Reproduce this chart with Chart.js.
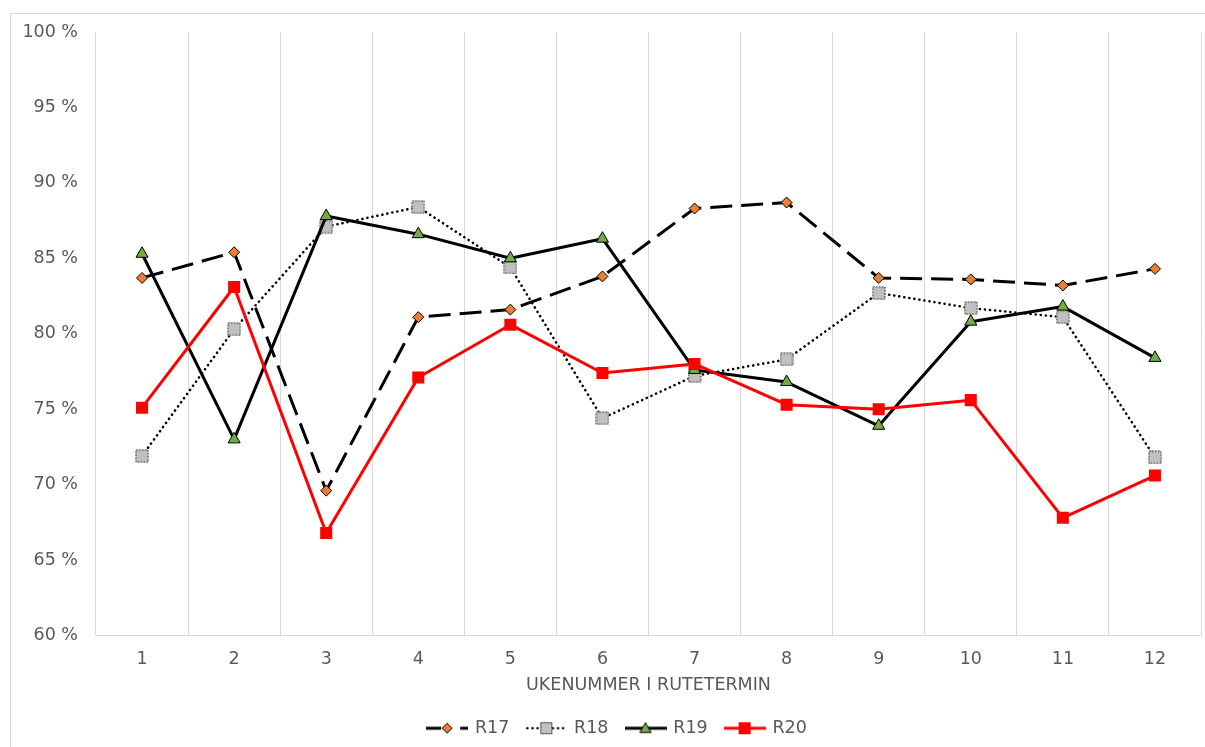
<!DOCTYPE html>
<html>
<head>
<meta charset="utf-8">
<script src="https://cdn.jsdelivr.net/npm/chart.js@4.4.1/dist/chart.umd.min.js"></script>
<style>
  html, body { margin: 0; padding: 0; background: #fff; overflow: hidden; }
  #frame { position: absolute; left: 10px; top: 13px; width: 1300px; height: 800px;
           border: 1px solid #d9d9d9; box-sizing: border-box; }
  #wrap { position: absolute; left: 0; top: 0; width: 1205px; height: 747px; }
</style>
</head>
<body>
<div id="frame"></div>
<div id="wrap"><canvas id="c" width="1205" height="747"></canvas></div>
<script>
// Week numbers within the timetable period
const weeks = ['1', '2', '3', '4', '5', '6', '7', '8', '9', '10', '11', '12'];

// Share per week (%) for each timetable period
const r17 = [83.7, 85.4, 69.6, 81.1, 81.6, 83.8, 88.3, 88.7, 83.7, 83.6, 83.2, 84.3];
const r18 = [71.9, 80.3, 87.1, 88.4, 84.4, 74.4, 77.2, 78.3, 82.7, 81.7, 81.1, 71.8];
const r19 = [85.3, 73.0, 87.8, 86.6, 85.0, 86.3, 77.6, 76.8, 73.9, 80.8, 81.8, 78.4];
const r20 = [75.1, 83.1, 66.8, 77.1, 80.6, 77.4, 78.0, 75.3, 75.0, 75.6, 67.8, 70.6];

const seriesNames = ['R17', 'R18', 'R19', 'R20'];
const yTicks = [60, 65, 70, 75, 80, 85, 90, 95, 100];

const TEXT = '#595959';
const GRID = '#d9d9d9';
const FONT = 'DejaVu Sans';
const FS = 17.5;

function makeCanvas(w, h, draw) {
  const cv = document.createElement('canvas');
  cv.width = w; cv.height = h;
  draw(cv.getContext('2d'), w, h);
  return cv;
}

function diamond(ctx, x, y, r) {
  ctx.beginPath();
  ctx.moveTo(x, y - r); ctx.lineTo(x + r, y); ctx.lineTo(x, y + r); ctx.lineTo(x - r, y);
  ctx.closePath();
  ctx.fillStyle = '#ED7D31'; ctx.fill();
  ctx.lineWidth = 1; ctx.strokeStyle = '#000'; ctx.stroke();
}
function greySquare(ctx, x, y, s) {
  ctx.fillStyle = '#C0C0C0';
  ctx.fillRect(x - s / 2, y - s / 2, s, s);
  ctx.save();
  ctx.setLineDash([1.5, 1.5]);
  ctx.lineWidth = 1; ctx.strokeStyle = '#3a3a3a';
  ctx.strokeRect(x - s / 2 + 0.5, y - s / 2 + 0.5, s - 1, s - 1);
  ctx.restore();
}
function triangle(ctx, x, y, r) {
  ctx.beginPath();
  ctx.moveTo(x, y - r);
  ctx.lineTo(x + r * 0.866, y + r / 2);
  ctx.lineTo(x - r * 0.866, y + r / 2);
  ctx.closePath();
  ctx.fillStyle = '#70AD47'; ctx.fill();
  ctx.lineWidth = 1; ctx.strokeStyle = '#000'; ctx.stroke();
}

// Marker used on the R18 line (grey square with dotted edge)
const r18Marker = makeCanvas(14, 14, (ctx) => greySquare(ctx, 7, 7, 13));

// Legend symbols: line segment with the series marker in the middle
const IW = 42, IH = 16, CY = 8;
const legendIcons = [
  makeCanvas(IW, IH, ctx => {
    ctx.strokeStyle = '#000'; ctx.lineWidth = 3;
    ctx.beginPath(); ctx.moveTo(0, CY); ctx.lineTo(15, CY); ctx.stroke();
    ctx.beginPath(); ctx.moveTo(34, CY); ctx.lineTo(42, CY); ctx.stroke();
    diamond(ctx, 21, CY, 5);
  }),
  makeCanvas(IW, IH, ctx => {
    ctx.strokeStyle = '#000'; ctx.lineWidth = 2.5; ctx.lineCap = 'round';
    ctx.setLineDash([0.1, 5]);
    ctx.beginPath(); ctx.moveTo(2, CY); ctx.lineTo(41, CY); ctx.stroke();
    ctx.setLineDash([]);
    greySquare(ctx, 21, CY, 12);
  }),
  makeCanvas(IW, IH, ctx => {
    ctx.strokeStyle = '#000'; ctx.lineWidth = 3;
    ctx.beginPath(); ctx.moveTo(0, CY); ctx.lineTo(42, CY); ctx.stroke();
    triangle(ctx, 21, CY + 1, 6.5);
  }),
  makeCanvas(IW, IH, ctx => {
    ctx.strokeStyle = '#FF0000'; ctx.lineWidth = 3;
    ctx.beginPath(); ctx.moveTo(0, CY); ctx.lineTo(42, CY); ctx.stroke();
    ctx.fillStyle = '#FF0000'; ctx.fillRect(21 - 6, CY - 6, 12, 12);
  })
];

// Nudges the legend row to the right so it sits centred under the full frame
const legendShift = {
  id: 'legendShift',
  afterLayout(chart) {
    if (chart.legend) { chart.legend.left += 7; chart.legend.right += 7; }
  }
};

Chart.defaults.font.family = FONT;
Chart.defaults.font.size = FS;
Chart.defaults.color = TEXT;

new Chart(document.getElementById('c'), {
  type: 'line',
  plugins: [legendShift],
  data: {
    labels: weeks,
    datasets: [
      {
        label: seriesNames[0], data: r17, order: 3,
        borderColor: '#000', borderWidth: 3, borderDash: [22, 9],
        pointStyle: 'rectRot', pointRadius: 5.5, pointHoverRadius: 5.5,
        pointBackgroundColor: '#ED7D31', pointBorderColor: '#000', pointBorderWidth: 1
      },
      {
        label: seriesNames[1], data: r18, order: 2,
        borderColor: '#000', borderWidth: 2.6, borderDash: [0.1, 5], borderCapStyle: 'round',
        pointStyle: r18Marker, pointRadius: 7, pointHoverRadius: 7
      },
      {
        label: seriesNames[2], data: r19, order: 1,
        borderColor: '#000', borderWidth: 3, borderJoinStyle: 'round',
        pointStyle: 'triangle', pointRadius: 7, pointHoverRadius: 7,
        pointBackgroundColor: '#70AD47', pointBorderColor: '#000', pointBorderWidth: 1
      },
      {
        label: seriesNames[3], data: r20, order: 0,
        borderColor: '#FF0000', borderWidth: 3, borderJoinStyle: 'round',
        pointStyle: 'rect', pointRadius: 8.5, pointHoverRadius: 8.5,
        pointBackgroundColor: '#FF0000', pointBorderColor: '#FF0000', pointBorderWidth: 0
      }
    ]
  },
  options: {
    responsive: false,
    devicePixelRatio: 1,
    animation: false,
    events: [],
    elements: { line: { tension: 0, fill: false } },
    layout: { autoPadding: false, padding: { left: 20, right: 4, top: 32, bottom: 0 } },
    scales: {
      x: {
        type: 'category',
        offset: true,
        grid: { offset: true, color: GRID, lineWidth: 1, drawTicks: false },
        border: { display: true, color: GRID, width: 1 },
        ticks: { padding: 13, color: TEXT, font: { size: FS } },
        title: {
          display: true, text: 'UKENUMMER I RUTETERMIN', color: TEXT,
          font: { size: FS }, padding: { top: 0, bottom: 5.5 }
        },
        afterFit(scale) {
          scale.height = 66;
          scale.paddingLeft = 0;
          scale.paddingRight = 0;
        }
      },
      y: {
        min: yTicks[0], max: yTicks[yTicks.length - 1],
        grid: { display: false, drawTicks: false },
        border: { display: false },
        ticks: {
          stepSize: 5, padding: 18, color: TEXT, font: { size: FS },
          callback: v => v + ' %'
        },
        afterBuildTicks(scale) { scale.ticks = yTicks.map(v => ({ value: v })); },
        afterFit(scale) { scale.width = 76; }
      }
    },
    plugins: {
      tooltip: { enabled: false },
      legend: {
        position: 'bottom',
        labels: {
          usePointStyle: true,
          pointStyleWidth: 38,
          padding: 18,
          color: TEXT,
          font: { size: FS },
          generateLabels(chart) {
            return chart.data.datasets.map((ds, i) => ({
              text: ds.label,
              pointStyle: legendIcons[i],
              datasetIndex: i,
              hidden: false,
              fillStyle: 'transparent',
              strokeStyle: 'transparent',
              lineWidth: 0,
              fontColor: TEXT
            }));
          }
        }
      }
    }
  }
});
</script>
</body>
</html>
